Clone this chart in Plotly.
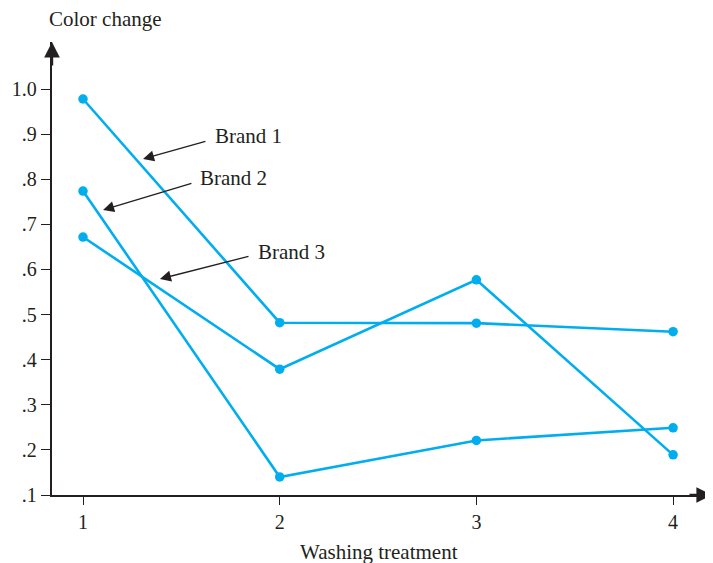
import plotly.graph_objects as go

treatments = [1, 2, 3, 4]
brand1 = [0.978, 0.482, 0.481, 0.462]
brand2 = [0.774, 0.140, 0.221, 0.249]
brand3 = [0.672, 0.379, 0.577, 0.189]
series_names = ["Brand 1", "Brand 2", "Brand 3"]
y_tick_vals = [0.1, 0.2, 0.3, 0.4, 0.5, 0.6, 0.7, 0.8, 0.9, 1.0]
y_tick_text = [".1", ".2", ".3", ".4", ".5", ".6", ".7", ".8", ".9", "1.0"]
x_tick_vals = [1, 2, 3, 4]

LINE = "#00aeef"
INK = "#231f20"
FONT = "Liberation Serif"

fig = go.Figure()
for name, vals in zip(series_names, [brand1, brand2, brand3]):
    fig.add_trace(go.Scatter(
        x=treatments, y=vals, name=name, mode="lines+markers",
        line=dict(color=LINE, width=2.6),
        marker=dict(color=LINE, size=9.5),
        showlegend=False, hoverinfo="skip",
    ))

# label arrows: (text, text x, text y, tail x, tail y, tip x, tip y) in data coords
labels = [
    ("Brand 1", 1.661, 0.896, 1.630, 0.885, 1.305, 0.845),
    ("Brand 2", 1.585, 0.803, 1.559, 0.792, 1.102, 0.732),
    ("Brand 3", 1.880, 0.639, 1.849, 0.630, 1.391, 0.579),
]
annotations = []
for text, tx, ty, ax_, ay_, hx, hy in labels:
    annotations.append(dict(
        x=hx, y=hy, xref="x", yref="y", ax=ax_, ay=ay_, axref="x", ayref="y",
        text="", showarrow=True, arrowhead=2, arrowsize=1.7, arrowwidth=1.3,
        arrowcolor=INK, standoff=0, startstandoff=0,
    ))
    annotations.append(dict(
        x=tx, y=ty, xref="x", yref="y", text=text, showarrow=False,
        xanchor="left", yanchor="middle",
        font=dict(family=FONT, size=21, color=INK),
    ))

# axis arrowheads
annotations.append(dict(x=1, y=0, xref="paper", yref="paper", ax=-25, ay=0,
                        text="", showarrow=True, arrowhead=2, arrowsize=1.3,
                        arrowwidth=2.4, arrowcolor=INK, standoff=0))
annotations.append(dict(x=0, y=1, xref="paper", yref="paper", ax=0, ay=25,
                        text="", showarrow=True, arrowhead=2, arrowsize=1.3,
                        arrowwidth=2.4, arrowcolor=INK, standoff=0))
# axis titles
annotations.append(dict(x=0.0815, y=1.0, xref="paper", yref="paper", yshift=23,
                        text="Color change", showarrow=False,
                        xanchor="center", yanchor="middle",
                        font=dict(family=FONT, size=21, color=INK)))
annotations.append(dict(x=0.495, y=0, xref="paper", yref="paper", yshift=-57,
                        text="Washing treatment", showarrow=False,
                        xanchor="center", yanchor="middle",
                        font=dict(family=FONT, size=21, color=INK)))

# page body has an 8px margin, so the figure is sized/offset to compensate
fig.update_layout(
    width=705, height=555,
    margin=dict(l=44, r=0, t=34, b=68),
    paper_bgcolor="white", plot_bgcolor="white",
    font=dict(family=FONT, size=20, color=INK),
    annotations=annotations,
    xaxis=dict(
        range=[0.8424, 4.2029], tickvals=x_tick_vals, ticktext=[str(v) for v in x_tick_vals],
        showgrid=False, zeroline=False, showline=True, linecolor=INK, linewidth=2.4,
        ticks="outside", ticklen=8, tickwidth=1.3, tickcolor=INK,
        tickfont=dict(family=FONT, size=20, color=INK),
    ),
    yaxis=dict(
        range=[0.1, 1.1044], tickvals=y_tick_vals, ticktext=y_tick_text,
        showgrid=False, zeroline=False, showline=True, linecolor=INK, linewidth=2.4,
        ticks="outside", ticklen=9, tickwidth=1.3, tickcolor=INK,
        tickfont=dict(family=FONT, size=20, color=INK),
    ),
)

fig.write_html("out.html")
